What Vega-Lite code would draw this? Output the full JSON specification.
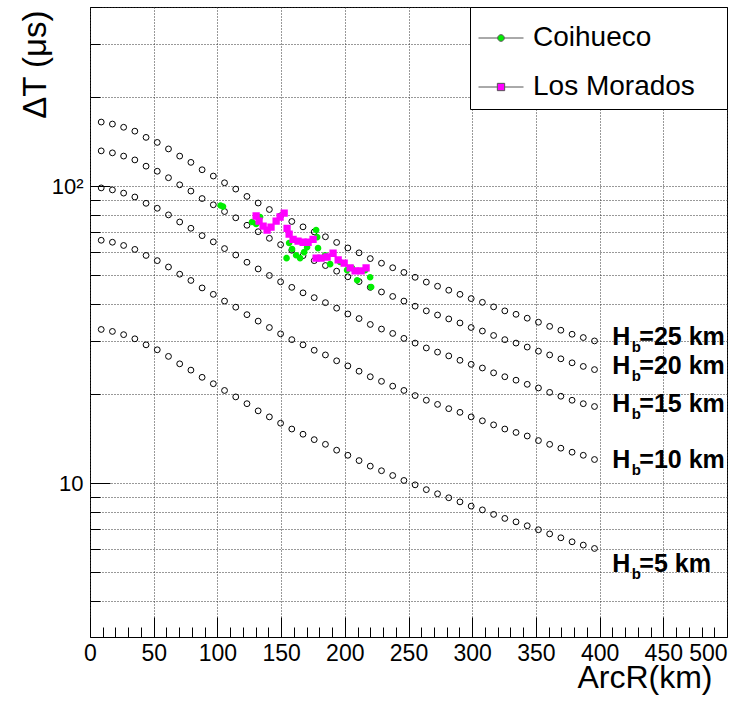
{
  "$schema": "https://vega.github.io/schema/vega-lite/v6.json",
  "width": 637,
  "height": 630,
  "autosize": "none",
  "padding": {"left": 90, "top": 7, "right": 22, "bottom": 72},
  "background": "white",
  "config": {
    "view": {"stroke": "#000", "strokeWidth": 1},
    "font": "Liberation Sans",
    "axis": {"labelFont": "Liberation Sans", "titleFont": "Liberation Sans", "labelColor": "#000", "titleColor": "#000", "tickColor": "#000", "gridColor": "#333", "gridDash": [1, 2], "gridWidth": 1, "domain": false}
  },
  "datasets": {
    "curves": [
      {"r": 8.8, "h25": 164.3, "h20": 131.4, "h15": 98.6, "h10": 65.7, "h5": 32.9},
      {"r": 17.6, "h25": 161.8, "h20": 129.4, "h15": 97.1, "h10": 64.7, "h5": 32.4},
      {"r": 26.4, "h25": 157.8, "h20": 126.2, "h15": 94.7, "h10": 63.1, "h5": 31.6},
      {"r": 35.2, "h25": 153.1, "h20": 122.5, "h15": 91.9, "h10": 61.2, "h5": 30.6},
      {"r": 44, "h25": 145.9, "h20": 116.7, "h15": 87.5, "h10": 58.4, "h5": 29.2},
      {"r": 52.8, "h25": 140.3, "h20": 112.2, "h15": 84.2, "h10": 56.1, "h5": 28.1},
      {"r": 61.6, "h25": 133.4, "h20": 106.7, "h15": 80.0, "h10": 53.4, "h5": 26.7},
      {"r": 70.4, "h25": 126.2, "h20": 101.0, "h15": 75.7, "h10": 50.5, "h5": 25.2},
      {"r": 79.2, "h25": 120.2, "h20": 96.2, "h15": 72.1, "h10": 48.1, "h5": 24.0},
      {"r": 88, "h25": 113.5, "h20": 90.8, "h15": 68.1, "h10": 45.4, "h5": 22.7},
      {"r": 96.8, "h25": 108.1, "h20": 86.5, "h15": 64.9, "h10": 43.2, "h5": 21.6},
      {"r": 105.6, "h25": 102.6, "h20": 82.1, "h15": 61.6, "h10": 41.0, "h5": 20.5},
      {"r": 114.4, "h25": 97.7, "h20": 78.2, "h15": 58.6, "h10": 39.1, "h5": 19.5},
      {"r": 123.2, "h25": 92.3, "h20": 73.8, "h15": 55.4, "h10": 36.9, "h5": 18.5},
      {"r": 132, "h25": 87.7, "h20": 70.2, "h15": 52.6, "h10": 35.1, "h5": 17.5},
      {"r": 140.8, "h25": 83.4, "h20": 66.7, "h15": 50.0, "h10": 33.4, "h5": 16.7},
      {"r": 149.6, "h25": 79.4, "h20": 63.5, "h15": 47.6, "h10": 31.8, "h5": 15.9},
      {"r": 158.4, "h25": 76.0, "h20": 60.8, "h15": 45.6, "h10": 30.4, "h5": 15.2},
      {"r": 167.2, "h25": 72.9, "h20": 58.3, "h15": 43.7, "h10": 29.2, "h5": 14.6},
      {"r": 176, "h25": 70.1, "h20": 56.1, "h15": 42.1, "h10": 28.0, "h5": 14.0},
      {"r": 184.8, "h25": 67.5, "h20": 54.0, "h15": 40.5, "h10": 27.0, "h5": 13.5},
      {"r": 193.6, "h25": 64.6, "h20": 51.7, "h15": 38.8, "h10": 25.8, "h5": 12.9},
      {"r": 202.4, "h25": 61.9, "h20": 49.5, "h15": 37.1, "h10": 24.8, "h5": 12.4},
      {"r": 211.2, "h25": 59.6, "h20": 47.7, "h15": 35.8, "h10": 23.8, "h5": 11.9},
      {"r": 220, "h25": 57.0, "h20": 45.6, "h15": 34.2, "h10": 22.8, "h5": 11.4},
      {"r": 228.8, "h25": 55.0, "h20": 44.0, "h15": 33.0, "h10": 22.0, "h5": 11.0},
      {"r": 237.6, "h25": 53.1, "h20": 42.5, "h15": 31.9, "h10": 21.2, "h5": 10.6},
      {"r": 246.4, "h25": 51.2, "h20": 41.0, "h15": 30.7, "h10": 20.5, "h5": 10.2},
      {"r": 255.2, "h25": 49.3, "h20": 39.4, "h15": 29.6, "h10": 19.7, "h5": 9.86},
      {"r": 264, "h25": 47.5, "h20": 38.0, "h15": 28.5, "h10": 19.0, "h5": 9.5},
      {"r": 272.8, "h25": 46.0, "h20": 36.8, "h15": 27.6, "h10": 18.4, "h5": 9.2},
      {"r": 281.6, "h25": 44.6, "h20": 35.7, "h15": 26.8, "h10": 17.8, "h5": 8.92},
      {"r": 290.4, "h25": 43.2, "h20": 34.6, "h15": 25.9, "h10": 17.3, "h5": 8.64},
      {"r": 299.2, "h25": 41.8, "h20": 33.4, "h15": 25.1, "h10": 16.7, "h5": 8.36},
      {"r": 308, "h25": 40.6, "h20": 32.5, "h15": 24.4, "h10": 16.2, "h5": 8.12},
      {"r": 316.8, "h25": 39.2, "h20": 31.4, "h15": 23.5, "h10": 15.7, "h5": 7.84},
      {"r": 325.6, "h25": 38.0, "h20": 30.4, "h15": 22.8, "h10": 15.2, "h5": 7.6},
      {"r": 334.4, "h25": 37.0, "h20": 29.6, "h15": 22.2, "h10": 14.8, "h5": 7.4},
      {"r": 343.2, "h25": 35.9, "h20": 28.7, "h15": 21.5, "h10": 14.4, "h5": 7.18},
      {"r": 352, "h25": 34.8, "h20": 27.8, "h15": 20.9, "h10": 13.9, "h5": 6.96},
      {"r": 360.8, "h25": 33.7, "h20": 27.0, "h15": 20.2, "h10": 13.5, "h5": 6.74},
      {"r": 369.6, "h25": 32.7, "h20": 26.2, "h15": 19.6, "h10": 13.1, "h5": 6.54},
      {"r": 378.4, "h25": 31.7, "h20": 25.4, "h15": 19.0, "h10": 12.7, "h5": 6.34},
      {"r": 387.2, "h25": 30.9, "h20": 24.7, "h15": 18.5, "h10": 12.4, "h5": 6.18},
      {"r": 396, "h25": 30.1, "h20": 24.1, "h15": 18.1, "h10": 12.0, "h5": 6.02}
    ],
    "stations": [
      {"station": "Coihueco", "r": 102.5, "dt": 86.0},
      {"station": "Coihueco", "r": 104.4, "dt": 85.3},
      {"station": "Coihueco", "r": 127.2, "dt": 75.7},
      {"station": "Coihueco", "r": 130.4, "dt": 74.5},
      {"station": "Coihueco", "r": 133.5, "dt": 78.7},
      {"station": "Coihueco", "r": 154.3, "dt": 57.2},
      {"station": "Coihueco", "r": 156.3, "dt": 64.3},
      {"station": "Coihueco", "r": 158.6, "dt": 61.4},
      {"station": "Coihueco", "r": 161.8, "dt": 58.5},
      {"station": "Coihueco", "r": 164.9, "dt": 57.2},
      {"station": "Coihueco", "r": 168.1, "dt": 59.9},
      {"station": "Coihueco", "r": 170.4, "dt": 62.2},
      {"station": "Coihueco", "r": 177.5, "dt": 71.1},
      {"station": "Coihueco", "r": 178.3, "dt": 67.3},
      {"station": "Coihueco", "r": 179.0, "dt": 61.8},
      {"station": "Coihueco", "r": 184.5, "dt": 58.5},
      {"station": "Coihueco", "r": 188.5, "dt": 54.6},
      {"station": "Coihueco", "r": 196.3, "dt": 55.5},
      {"station": "Coihueco", "r": 201.8, "dt": 52.1},
      {"station": "Coihueco", "r": 205.7, "dt": 53.0},
      {"station": "Coihueco", "r": 209.7, "dt": 48.2},
      {"station": "Coihueco", "r": 216.0, "dt": 52.1},
      {"station": "Coihueco", "r": 219.9, "dt": 49.3},
      {"station": "Coihueco", "r": 220.7, "dt": 45.7},
      {"station": "Los Morados", "r": 130.4, "dt": 79.3},
      {"station": "Los Morados", "r": 132.7, "dt": 76.2},
      {"station": "Los Morados", "r": 135.9, "dt": 73.3},
      {"station": "Los Morados", "r": 139.0, "dt": 71.1},
      {"station": "Los Morados", "r": 142.1, "dt": 72.8},
      {"station": "Los Morados", "r": 146.1, "dt": 76.2},
      {"station": "Los Morados", "r": 149.2, "dt": 78.7},
      {"station": "Los Morados", "r": 152.4, "dt": 81.1},
      {"station": "Los Morados", "r": 154.7, "dt": 72.1},
      {"station": "Los Morados", "r": 156.3, "dt": 68.9},
      {"station": "Los Morados", "r": 159.4, "dt": 66.2},
      {"station": "Los Morados", "r": 163.3, "dt": 65.3},
      {"station": "Los Morados", "r": 167.3, "dt": 64.7},
      {"station": "Los Morados", "r": 171.2, "dt": 64.7},
      {"station": "Los Morados", "r": 175.1, "dt": 66.2},
      {"station": "Los Morados", "r": 177.5, "dt": 57.2},
      {"station": "Los Morados", "r": 181.4, "dt": 57.2},
      {"station": "Los Morados", "r": 186.1, "dt": 57.7},
      {"station": "Los Morados", "r": 190.8, "dt": 59.4},
      {"station": "Los Morados", "r": 194.8, "dt": 56.4},
      {"station": "Los Morados", "r": 199.5, "dt": 55.0},
      {"station": "Los Morados", "r": 204.2, "dt": 53.0},
      {"station": "Los Morados", "r": 208.1, "dt": 51.8},
      {"station": "Los Morados", "r": 212.8, "dt": 51.8},
      {"station": "Los Morados", "r": 216.7, "dt": 53.0}
    ],
    "labels": [
      {"x": 410, "y": 29.1, "t": "=25 km"},
      {"x": 410, "y": 23.2, "t": "=20 km"},
      {"x": 410, "y": 17.3, "t": "=15 km"},
      {"x": 410, "y": 11.2, "t": "=10 km"},
      {"x": 410, "y": 5.01, "t": "=5 km"}
    ]
  },
  "layer": [
    {
      "data": {"name": "curves"},
      "transform": [{"fold": ["h25", "h20", "h15", "h10", "h5"], "as": ["hb", "dt"]}],
      "mark": {"type": "point", "shape": "circle", "filled": false, "stroke": "#000", "strokeWidth": 1, "size": 34, "opacity": 1},
      "encoding": {
        "x": {"field": "r", "type": "quantitative",
          "scale": {"domain": [0, 500], "nice": false, "zero": false},
          "axis": {"orient": "bottom", "values": [0, 50, 100, 150, 200, 250, 300, 350, 400, 450, 500], "format": "d", "ticks": false, "labelFontSize": 23, "labelPadding": 5, "labelFlush": false, "labelOverlap": false,
            "labelAlign": {"condition": {"test": "datum.value == 500", "value": "right"}, "value": "center"},
            "grid": true,
            "title": "ArcR(km)", "titleFontSize": 32, "titleFontWeight": "normal", "titleAlign": "right", "titleAnchor": "end", "titleBaseline": "alphabetic", "titleX": 622, "titleY": 50}},
        "y": {"field": "dt", "type": "quantitative",
          "scale": {"type": "log", "domain": [3.03, 401], "nice": false},
          "axis": {"orient": "left", "values": [10, 100], "ticks": false, "labelExpr": "datum.value == 100 ? '10²' : '10'", "labelFontSize": 22, "labelPadding": 7, "labelFlush": false, "labelOverlap": false, "grid": true,
            "title": "ΔT (μs)", "titleFontSize": 33, "titleFontWeight": "normal", "titleAngle": 270, "titleAlign": "right", "titleBaseline": "alphabetic", "titleX": -45, "titleY": 3}}
      }
    },
    {
      "data": {"name": "stations"},
      "mark": {"type": "point", "filled": true, "size": 2025, "opacity": 1},
      "encoding": {
        "x": {"field": "r", "type": "quantitative",
          "scale": {"domain": [0, 500], "nice": false, "zero": false},
          "axis": {"orient": "bottom", "values": [0, 50, 100, 150, 200, 250, 300, 350, 400, 450, 500], "labels": false, "ticks": true, "tickSize": -20, "tickWidth": 1, "grid": false, "title": null}},
        "y": {"field": "dt", "type": "quantitative",
          "scale": {"type": "log", "domain": [3.03, 401], "nice": false},
          "axis": {"orient": "left", "values": [10, 100], "labels": false, "ticks": true, "tickSize": -20, "tickWidth": 1, "grid": false, "title": null}},
        "fill": {"field": "station", "type": "nominal",
          "scale": {"domain": ["Coihueco", "Los Morados"], "range": ["#00ee00", "#ff00ff"]},
          "legend": {"title": null, "orient": "top-right", "offset": 0, "padding": 8, "strokeColor": "#000", "fillColor": "#fff", "symbolSize": 2025, "symbolStrokeColor": "#555", "symbolStrokeWidth": 1, "labelFontSize": 28, "labelFont": "Liberation Sans", "labelColor": "#000", "labelOffset": 9, "labelLimit": 0, "rowPadding": 12,
            "encoding": {"symbols": {"stroke": {"value": "#555"}, "strokeWidth": {"value": 1}}}}},
        "shape": {"field": "station", "type": "nominal",
          "scale": {"domain": ["Coihueco", "Los Morados"], "range": ["M-1,0L-0.147,0M0.147,0L1,0M0.147,0A0.147,0.147,0,1,1,-0.147,0A0.147,0.147,0,1,1,0.147,0ZM9.6,0L9.6,0", "M-1,0L-0.162,0M0.162,0L1,0M-0.162,-0.162L0.162,-0.162L0.162,0.162L-0.162,0.162ZM9.6,0L9.6,0"]},
          "legend": {"title": null, "orient": "top-right", "offset": 0, "padding": 8, "strokeColor": "#000", "fillColor": "#fff", "symbolSize": 2025, "symbolStrokeColor": "#555", "symbolStrokeWidth": 1, "labelFontSize": 28, "labelFont": "Liberation Sans", "labelColor": "#000", "labelOffset": 9, "labelLimit": 0, "rowPadding": 12,
            "encoding": {"symbols": {"stroke": {"value": "#555"}, "strokeWidth": {"value": 1}}}}}
      }
    },
    {
      "data": {"name": "labels"},
      "mark": {"type": "text", "text": "H", "font": "Liberation Sans", "fontWeight": "bold", "fontSize": 25, "align": "left", "baseline": "alphabetic", "color": "#000"},
      "encoding": {
        "x": {"field": "x", "type": "quantitative",
          "scale": {"domain": [0, 500], "nice": false, "zero": false},
          "axis": {"orient": "bottom", "values": [10, 20, 30, 40, 60, 70, 80, 90, 110, 120, 130, 140, 160, 170, 180, 190, 210, 220, 230, 240, 260, 270, 280, 290, 310, 320, 330, 340, 360, 370, 380, 390, 410, 420, 430, 440, 460, 470, 480, 490], "labels": false, "ticks": true, "tickSize": -10, "tickWidth": 1, "grid": false, "title": null}},
        "y": {"field": "y", "type": "quantitative",
          "scale": {"type": "log", "domain": [3.03, 401], "nice": false},
          "axis": {"orient": "left", "values": [4, 5, 6, 7, 8, 9, 20, 30, 40, 50, 60, 70, 80, 90, 200, 300, 400], "labels": false, "ticks": true, "tickSize": -10, "tickWidth": 1, "grid": true, "title": null}}
      }
    },
    {
      "data": {"name": "labels"},
      "mark": {"type": "text", "text": "b", "font": "Liberation Sans", "fontWeight": "bold", "fontSize": 15, "align": "left", "baseline": "alphabetic", "color": "#000", "dx": 19.5, "dy": 6.7},
      "encoding": {
        "x": {"field": "x", "type": "quantitative", "scale": {"domain": [0, 500], "nice": false, "zero": false}, "axis": null},
        "y": {"field": "y", "type": "quantitative", "scale": {"type": "log", "domain": [3.03, 401], "nice": false}, "axis": null}
      }
    },
    {
      "data": {"name": "labels"},
      "mark": {"type": "text", "font": "Liberation Sans", "fontWeight": "bold", "fontSize": 25, "align": "left", "baseline": "alphabetic", "color": "#000", "dx": 27},
      "encoding": {
        "x": {"field": "x", "type": "quantitative", "scale": {"domain": [0, 500], "nice": false, "zero": false}, "axis": null},
        "y": {"field": "y", "type": "quantitative", "scale": {"type": "log", "domain": [3.03, 401], "nice": false}, "axis": null},
        "text": {"field": "t", "type": "nominal"}
      }
    }
  ],
  "resolve": {"axis": {"x": "independent", "y": "independent"}}
}
